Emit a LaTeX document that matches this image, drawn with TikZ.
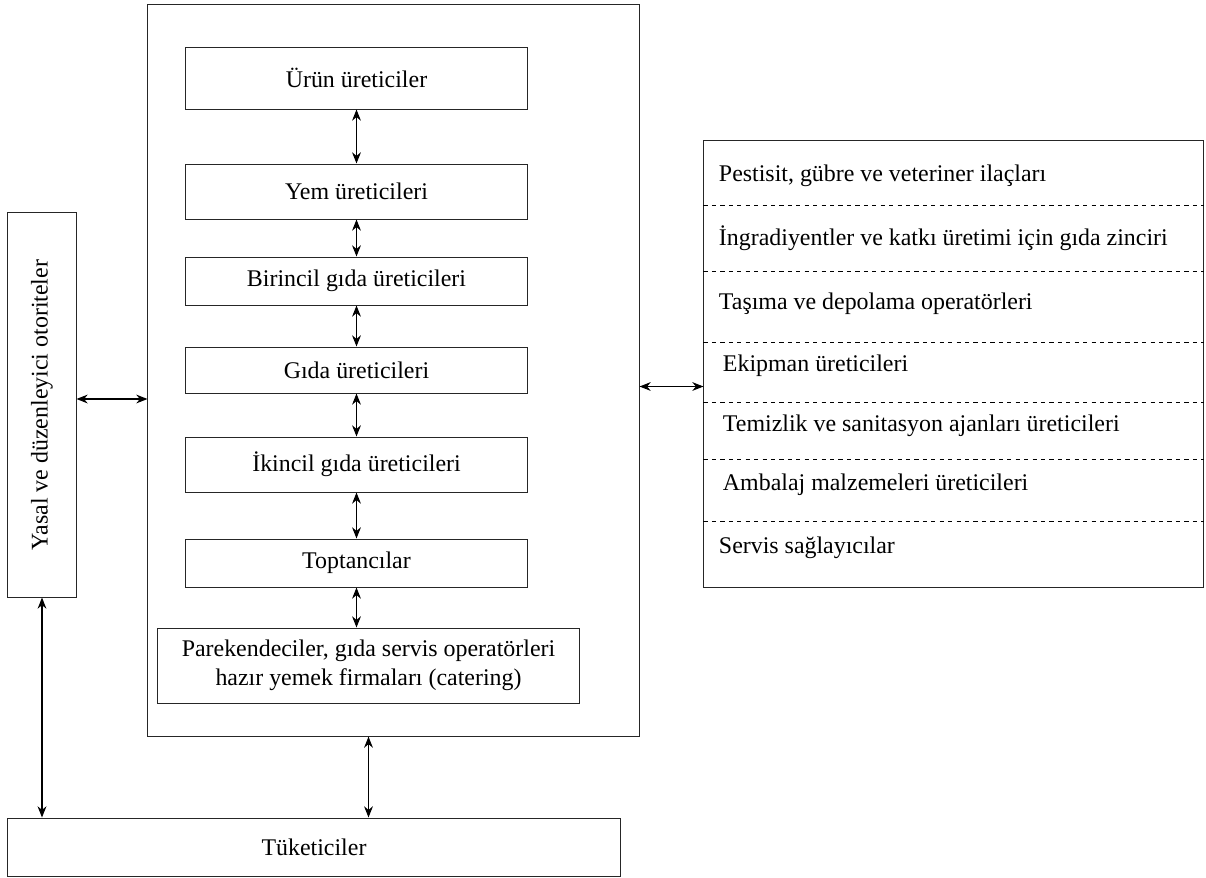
\documentclass[tikz,border=0pt]{standalone}
\usepackage{fontspec}
\setmainfont{Liberation Serif}
\usetikzlibrary{arrows.meta,positioning,calc}
\tikzset{
  box/.style={draw=black!85,line width=0.7pt,align=center,inner sep=2pt,font=\fontsize{17}{21}\selectfont},
  arr/.style={{Stealth[length=2.8mm,width=2.2mm]}-{Stealth[length=2.8mm,width=2.2mm]},line width=0.8pt,draw=black},
  item/.style={anchor=west,font=\fontsize{17}{21}\selectfont},
  sep/.style={line width=0.5pt,dash pattern=on 3pt off 3pt},
}

\begin{document}
\begin{tikzpicture}[x=0.025cm,y=-0.025cm]
\useasboundingbox (0,0) rectangle (1206,877);
% food chain
\node[box,minimum width=12.275cm,minimum height=18.275cm] (chain) at (393.5,370.5) {};
\node[box,minimum width=8.525cm,minimum height=1.55cm] (urun) at (356.5,78) {Ürün üreticiler};
\node[box,minimum width=8.525cm,minimum height=1.375cm] (yem) at (356.5,191.5) {Yem üreticileri};
\node[box,minimum width=8.525cm,minimum height=1.2cm] (bir) at (356.5,281) {Birincil gıda üreticileri};
\node[box,minimum width=8.525cm,minimum height=1.15cm] (gida) at (356.5,370) {Gıda üreticileri};
\node[box,minimum width=8.525cm,minimum height=1.375cm] (iki) at (356.5,464.5) {İkincil gıda üreticileri};
\node[box,minimum width=8.525cm,minimum height=1.2cm] (top) at (356.5,563) {Toptancılar};
\node[box,minimum width=10.525cm,minimum height=1.875cm] (park) at (368.5,665.5) {Parekendeciler, gıda servis operatörleri\\hazır yemek firmaları (catering)};
\draw[arr] (urun.south) -- (yem.north);
\draw[arr] (yem.south) -- (bir.north);
\draw[arr] (bir.south) -- (gida.north);
\draw[arr] (gida.south) -- (iki.north);
\draw[arr] (iki.south) -- (top.north);
\draw[arr] (top.south) -- (top.south |- park.north);
% authorities and consumers
\node[box,rotate=90,minimum width=9.6cm,minimum height=1.7cm] (reg) at (42,405) {Yasal ve düzenleyici otoriteler};
\node[box,minimum width=15.3cm,minimum height=1.45cm] (cons) at (314,847) {Tüketiciler};
\draw[arr] ($(reg.south)+(0,-6)$) -- ($(reg.south -| chain.west)+(0,-6)$);
\draw[arr] (reg.west) -- (reg.west |- cons.north);
\draw[arr] (park |- chain.south) -- (park |- cons.north);
% suppliers
\node[box,minimum width=12.475cm,minimum height=11.15cm] (supp) at (953.5,364) {};
\foreach \y in {205,271,342,402,459,521}
  \draw[sep] (supp.west |- 0,\y) -- (supp.east |- 0,\y);
\node[item] (pest) at (714,176) {Pestisit, gübre ve veteriner ilaçları};
\node[item] (ingr) at (714,238) {İngradiyentler ve katkı üretimi için gıda zinciri};
\node[item] (tas) at (714,304) {Taşıma ve depolama operatörleri};
\node[item] (ekip) at (718,366) {Ekipman üreticileri};
\node[item] (tem) at (718,426) {Temizlik ve sanitasyon ajanları üreticileri};
\node[item] (amb) at (718,485) {Ambalaj malzemeleri üreticileri};
\node[item] (serv) at (714,548) {Servis sağlayıcılar};
\draw[arr] ($(chain.east)+(0,16)$) -- ($(chain.east -| supp.west)+(0,16)$);
\end{tikzpicture}
\end{document}
